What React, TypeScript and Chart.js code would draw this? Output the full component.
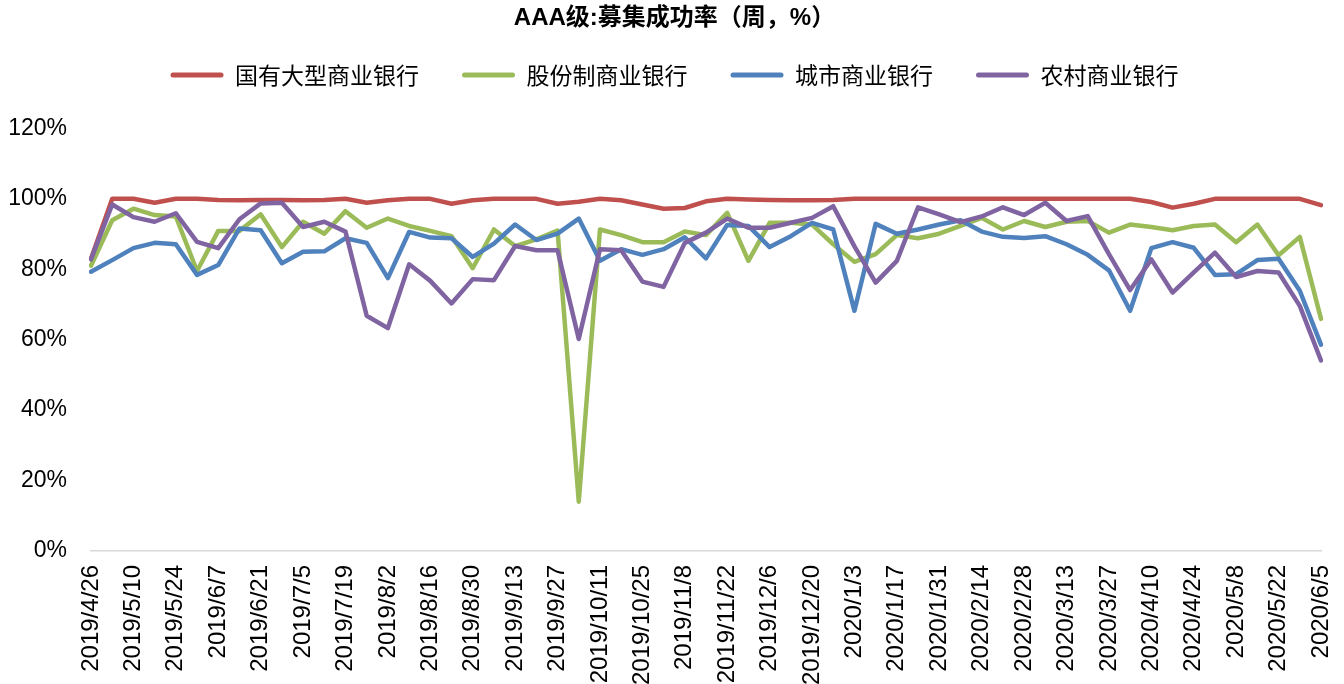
import { useEffect, useRef } from "react";
import { Chart, registerables } from "chart.js";

Chart.register(...registerables);

const dates = [
  "2019/4/26", "2019/5/3", "2019/5/10", "2019/5/17", "2019/5/24", "2019/5/31",
  "2019/6/7", "2019/6/14", "2019/6/21", "2019/6/28", "2019/7/5", "2019/7/12",
  "2019/7/19", "2019/7/26", "2019/8/2", "2019/8/9", "2019/8/16", "2019/8/23",
  "2019/8/30", "2019/9/6", "2019/9/13", "2019/9/20", "2019/9/27", "2019/10/4",
  "2019/10/11", "2019/10/18", "2019/10/25", "2019/11/1", "2019/11/8", "2019/11/15",
  "2019/11/22", "2019/11/29", "2019/12/6", "2019/12/13", "2019/12/20", "2019/12/27",
  "2020/1/3", "2020/1/10", "2020/1/17", "2020/1/24", "2020/1/31", "2020/2/7",
  "2020/2/14", "2020/2/21", "2020/2/28", "2020/3/6", "2020/3/13", "2020/3/20",
  "2020/3/27", "2020/4/3", "2020/4/10", "2020/4/17", "2020/4/24", "2020/5/1",
  "2020/5/8", "2020/5/15", "2020/5/22", "2020/5/29", "2020/6/5",
];

const seriesNames = ["国有大型商业银行", "股份制商业银行", "城市商业银行", "农村商业银行"];

const stateOwned = [
  83, 100, 100, 98.9, 100, 100, 99.7, 99.6, 99.7, 99.7, 99.6, 99.7, 100, 98.9, 99.6,
  100, 100, 98.6, 99.6, 100, 100, 100, 98.6, 99.2, 100, 99.6, 98.4, 97.2, 97.4, 99.3,
  100, 99.8, 99.7, 99.6, 99.6, 99.7, 100, 100, 100, 100, 100, 100, 100, 100, 100,
  100, 100, 100, 100, 100, 99.1, 97.5, 98.6, 100, 100, 100, 100, 100, 98.2,
];

const jointStock = [
  81, 93.9, 97.2, 95.4, 95, 79.5, 90.9, 90.9, 95.6, 86.3, 93.5, 90.1, 96.5, 91.8, 94.4,
  92.3, 90.9, 89.4, 80.3, 91.3, 86.6, 88.5, 91, 14, 91.3, 89.7, 87.7, 87.7, 90.7, 89.7,
  96, 82.4, 93.2, 93.2, 92.7, 87.1, 82.1, 84.3, 89.7, 88.8, 90.1, 92.3, 94.6, 91.3, 93.7,
  92, 93.5, 93.7, 90.4, 92.7, 92, 91.1, 92.3, 92.7, 87.7, 92.7, 84, 89.2, 65.9,
];

const cityBanks = [
  79.3, 82.6, 86, 87.5, 87.1, 78.4, 81.2, 91.6, 91.1, 81.7, 85, 85.1, 88.8, 87.5, 77.5,
  90.6, 89, 88.8, 83.5, 87.3, 92.7, 88.3, 90.1, 94.4, 82.4, 85.7, 84.1, 85.7, 89.1, 83.1,
  92.6, 92.3, 86.3, 89.4, 93.2, 91.3, 68.2, 92.9, 90.1, 91.3, 92.7, 93.9, 90.7, 89.2, 88.9,
  89.4, 87.1, 84.1, 79.7, 68.2, 86, 87.7, 86.1, 78.4, 78.6, 82.6, 83, 73.9, 58.6,
];

const ruralBanks = [
  82.8, 98.4, 94.8, 93.5, 95.9, 87.8, 86, 94.2, 98.7, 98.9, 92, 93.5, 90.7, 66.8, 63.3,
  81.4, 76.7, 70.3, 77.2, 76.9, 86.6, 85.4, 85.4, 60.2, 85.7, 85.4, 76.5, 75, 87.5, 90.4,
  94.4, 91.8, 91.8, 93.2, 94.6, 97.9, 86.5, 76.2, 82.4, 97.6, 95.6, 93.4, 95, 97.6, 95.4,
  98.9, 93.7, 95.1, 84.3, 74.1, 82.8, 73.4, 79.1, 84.7, 77.8, 79.5, 79.1, 69.6, 54.1,
];

const colors = ["#C0504D", "#9BBB59", "#4F81BD", "#8064A2"];

const LATIN = "Arial, 'Liberation Sans', 'Noto Sans CJK SC', sans-serif";
const CJK = "'Noto Sans CJK SC', sans-serif";

export default function App() {
  const ref = useRef<HTMLCanvasElement>(null);

  useEffect(() => {
    const values = [stateOwned, jointStock, cityBanks, ruralBanks];
    const chart = new Chart(ref.current as HTMLCanvasElement, {
      type: "line",
      data: {
        labels: dates,
        datasets: seriesNames.map((name, i) => ({
          label: name,
          data: values[i],
          xAxisID: "x",
          yAxisID: "y",
          borderColor: colors[i],
          backgroundColor: colors[i],
          borderWidth: 4.5,
          pointRadius: 0,
          tension: 0,
          borderJoinStyle: "round" as const,
          borderCapStyle: "round" as const,
          order: 3 - i,
        })),
      },
      options: {
        animation: false,
        responsive: false,
        events: [],
        layout: { padding: { left: 8, right: 3, top: 0, bottom: 0 } },
        plugins: {
          title: {
            display: true,
            text: "AAA级:募集成功率（周，%）",
            color: "#000",
            font: { size: 24, weight: "bold", family: LATIN, lineHeight: 0.2 },
            padding: { top: 15.6, bottom: 0 },
          },
          legend: {
            display: true,
            position: "top",
            labels: {
              boxWidth: 53,
              boxHeight: 5,
              padding: 43,
              color: "#000",
              font: { size: 23, family: CJK },
              useBorderRadius: true,
              borderRadius: 2.5,
              sort: (a: any, b: any) => a.datasetIndex - b.datasetIndex,
              generateLabels: (c: Chart) =>
                Chart.defaults.plugins.legend.labels.generateLabels(c).map((it: any) => ({
                  ...it,
                  lineWidth: 0,
                  fillStyle: it.strokeStyle,
                })),
            },
          },
          tooltip: { enabled: false },
        },
        scales: {
          x: {
            position: "bottom",
            grid: { display: false, drawTicks: false },
            border: { display: true, color: "#D9D9D9", width: 1.5 },
            afterFit: (s: any) => {
              s.height = 133;
              s.paddingLeft = 0;
              s.paddingRight = 23;
            },
            ticks: {
              autoSkip: false,
              maxRotation: 90,
              minRotation: 90,
              padding: 14,
              color: "#000",
              font: { size: 24, family: LATIN },
              callback: (_v: any, i: number) => (i % 2 === 0 ? dates[i] : ""),
            },
          },
          spacer: {
            type: "category",
            position: "top",
            display: true,
            grid: { display: false, drawTicks: false },
            border: { display: false },
            ticks: { display: false },
            afterFit: (s: any) => {
              s.height = 32;
              s.paddingLeft = 0;
              s.paddingRight = 0;
            },
          },
          y: {
            min: 0,
            max: 120,
            grid: { display: false, drawTicks: false },
            border: { display: false },
            afterFit: (s: any) => {
              s.width = 83;
            },
            ticks: {
              stepSize: 20,
              padding: 24,
              color: "#000",
              font: { size: 23, family: LATIN },
              callback: (v: any) => v + "%",
            },
          },
        },
      } as any,
    });
    return () => chart.destroy();
  }, []);

  return (
    <div style={{ position: "absolute", left: 0, top: 0, width: 1344, height: 684, background: "#fff" }}>
      <canvas ref={ref} width={1344} height={684} style={{ display: "block" }} />
    </div>
  );
}
